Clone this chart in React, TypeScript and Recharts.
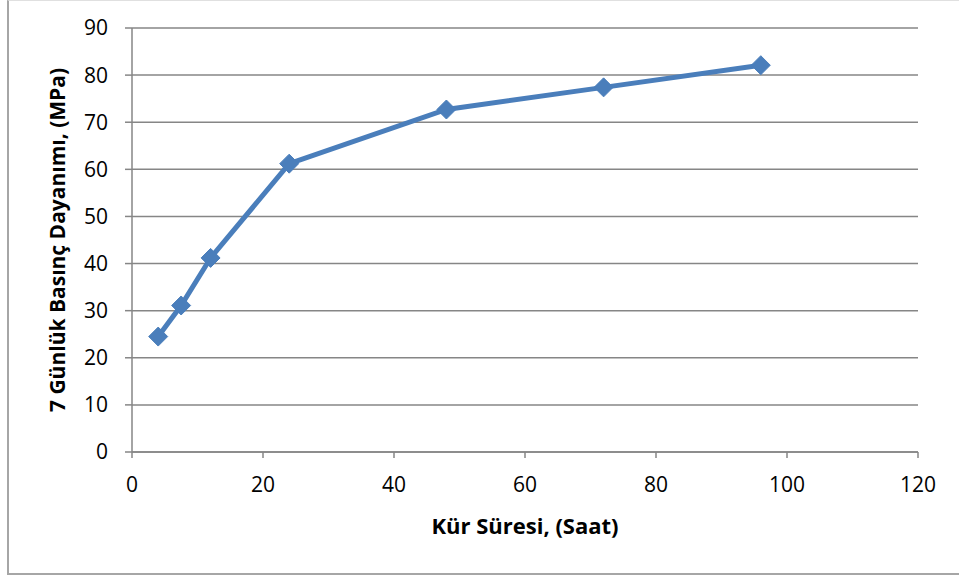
import { LineChart, Line, XAxis, YAxis, CartesianGrid } from 'recharts';

// Cure time (hours) vs 7-day compressive strength (MPa)
const cureHours = [4, 7.5, 12, 24, 48, 72, 96];
const strengthMPa = [24.5, 31.1, 41.2, 61.2, 72.7, 77.4, 82.1];
const xTicks = [0, 20, 40, 60, 80, 100, 120];
const yTicks = [0, 10, 20, 30, 40, 50, 60, 70, 80, 90];

const data = cureHours.map((h, i) => ({ hours: h, strength: strengthMPa[i] }));

const BLUE = '#4a7ebb';
const GRID = '#868686';
const FONT = '"Open Sans", Lato, sans-serif';

// Diamond marker like the Excel default
const Diamond = (props: { cx?: number; cy?: number; index?: number }) => {
  const { cx, cy } = props;
  if (cx == null || cy == null) return null;
  const r = 9.5;
  return (
    <polygon
      key={props.index}
      points={`${cx},${cy - r} ${cx + r},${cy} ${cx},${cy + r} ${cx - r},${cy}`}
      fill={BLUE}
      stroke={BLUE}
      strokeWidth={1}
    />
  );
};

export default function App() {
  return (
    <div
      style={{
        position: 'absolute',
        left: 0,
        top: 0,
        width: 959,
        height: 579,
        background: '#fff',
        fontFamily: FONT,
      }}
    >
      {/* chart frame */}
      <div
        style={{
          position: 'absolute',
          left: 7,
          top: 0,
          width: 980,
          height: 572,
          borderLeft: '2px solid #a6a6a6',
          borderBottom: '2px solid #a6a6a6',
          borderTop: '1px solid #e0e0e0',
        }}
      />
      <div style={{ position: 'absolute', left: 0, top: 0 }}>
        <LineChart
          width={959}
          height={579}
          data={data}
          margin={{ top: 28, right: 41, bottom: 47, left: 60 }}
        >
          <CartesianGrid vertical={false} stroke={GRID} strokeWidth={1.5} />
          <XAxis
            dataKey="hours"
            type="number"
            domain={[0, 120]}
            ticks={xTicks}
            interval={0}
            height={80}
            tickSize={6}
            tickMargin={19}
            stroke={GRID}
            strokeWidth={1.5}
            tick={{ fill: '#000', fontSize: 21, fontFamily: FONT }}
            label={{
              value: 'Kür Süresi, (Saat)',
              position: 'insideBottom',
              offset: -2,
              fill: '#000',
              fontSize: 22,
              fontWeight: 'bold',
              fontFamily: FONT,
            }}
          />
          <YAxis
            type="number"
            domain={[0, 90]}
            ticks={yTicks}
            interval={0}
            width={72}
            tickSize={7}
            tickMargin={17}
            stroke={GRID}
            strokeWidth={1.5}
            tick={{ fill: '#000', fontSize: 21, fontFamily: FONT }}
            label={{
              value: '7 Günlük Basınç Dayanımı, (MPa)',
              angle: -90,
              position: 'insideLeft',
              offset: -2,
              style: { textAnchor: 'middle' },
              fill: '#000',
              fontSize: 21,
              fontWeight: 'bold',
              fontFamily: FONT,
            }}
          />
          <Line
            type="linear"
            dataKey="strength"
            stroke={BLUE}
            strokeWidth={5}
            dot={<Diamond />}
            activeDot={false}
            isAnimationActive={false}
          />
        </LineChart>
      </div>
    </div>
  );
}
